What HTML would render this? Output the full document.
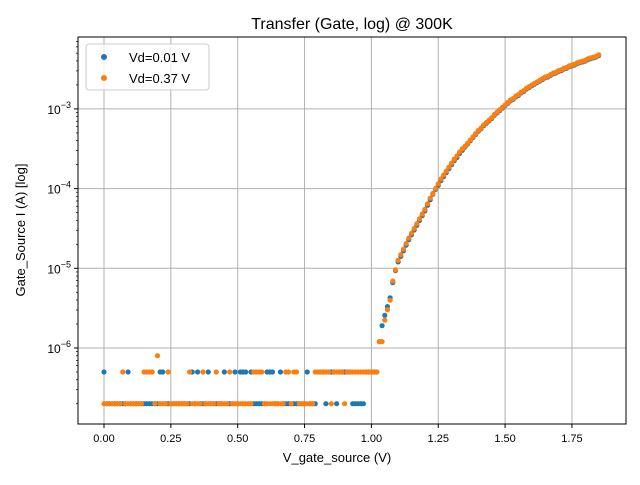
<!DOCTYPE html>
<html><head><meta charset="utf-8"><style>
body{margin:0;background:#fff;}
svg{font-family:"Liberation Sans","DejaVu Sans",sans-serif;}
</style></head><body>
<svg id="chart" width="640" height="480" xmlns="http://www.w3.org/2000/svg">
<rect width="640" height="480" fill="#fff"/>
<text x="352" y="29" font-size="16" text-anchor="middle">Transfer (Gate, log) @ 300K</text>
<text x="337" y="462" font-size="13" text-anchor="middle">V_gate_source (V)</text>
<text x="25" y="230" font-size="13" text-anchor="middle" transform="rotate(-90 25 230)">Gate_Source I (A) [log]</text>
<g id="grid"></g><g id="marks"></g><g id="axes"></g>
<g>
<rect x="86" y="44" width="123" height="46" rx="3" fill="#fff" fill-opacity="0.8" stroke="#ccc"/>
<circle cx="104" cy="57" r="3" fill="#1f77b4"/>
<text x="129" y="62" font-size="13">Vd=0.01 V</text>
<circle cx="104" cy="78" r="3" fill="#ff7f0e"/>
<text x="129" y="83" font-size="13">Vd=0.37 V</text>
</g>
</svg>
<script>
const xTicks=[0,0.25,0.5,0.75,1.0,1.25,1.5,1.75];
const xTickLabels=["0.00","0.25","0.50","0.75","1.00","1.25","1.50","1.75"];
const yDecades=[-6,-5,-4,-3];
const floorV=[0,0.01,0.02,0.03,0.04,0.05,0.06,0.07,0.08,0.09,0.1,0.11,0.12,0.13,0.14,0.15,0.16,0.17,0.18,0.19,0.2,0.21,0.22,0.23,0.24,0.25,0.26,0.27,0.28,0.29,0.3,0.31,0.32,0.33,0.34,0.35,0.36,0.37,0.38,0.39,0.4,0.41,0.42,0.43,0.44,0.45,0.46,0.47,0.48,0.49,0.5,0.51,0.52,0.53,0.54,0.55,0.56,0.57,0.58,0.59,0.6,0.61,0.62,0.63,0.64,0.65,0.66,0.67,0.68,0.69,0.7,0.71,0.72,0.73,0.74,0.75,0.76,0.77,0.78,0.79,0.8,0.81,0.82,0.83,0.84,0.85,0.86,0.87,0.88,0.89,0.9,0.91,0.92,0.93,0.94,0.95,0.96,0.97,0.98,0.99,1.0,1.01,1.02];
const blueHighV=[0.00,0.09,0.21,0.22,0.33,0.35,0.39,0.45,0.49,0.51,0.52,0.53,0.55,0.61,0.62,0.63,0.66,0.76,0.80,0.81,0.82,0.84,0.85,0.86,0.88,0.89,0.90,0.91,0.92,0.98,0.99,1.00,1.01,1.02];
const orangeHighV=[0.07,0.15,0.16,0.17,0.18,0.24,0.32,0.37,0.42,0.47,0.56,0.57,0.58,0.59,0.68,0.69,0.71,0.72,0.79,0.80,0.81,0.82,0.83,0.84,0.86,0.87,0.88,0.89,0.91,0.92,0.93,0.94,0.95,0.96,0.97,0.98,0.99,1.00,1.01,1.02];
const orangeSpikeV=[0.20];
const floorLow=2e-7, floorHigh=5e-7, spikeI=8e-7;
const riseV=[1.03,1.04,1.05,1.06,1.07,1.08,1.09,1.1,1.11,1.12,1.13,1.14,1.15,1.16,1.17,1.18,1.19,1.2,1.21,1.22,1.23,1.24,1.25,1.26,1.27,1.28,1.29,1.3,1.31,1.32,1.33,1.34,1.35,1.36,1.37,1.38,1.39,1.4,1.41,1.42,1.43,1.44,1.45,1.46,1.47,1.48,1.49,1.5,1.51,1.52,1.53,1.54,1.55,1.56,1.57,1.58,1.59,1.6,1.61,1.62,1.63,1.64,1.65,1.66,1.67,1.68,1.69,1.7,1.71,1.72,1.73,1.74,1.75,1.76,1.77,1.78,1.79,1.8,1.81,1.82,1.83,1.84,1.85];
const riseBlueLog=[-5.92,-5.72,-5.59,-5.48,-5.37,-5.18,-5.03,-4.92,-4.85,-4.78,-4.71,-4.64,-4.58,-4.52,-4.46,-4.40,-4.34,-4.28,-4.21,-4.14,-4.07,-4.01,-3.96,-3.90,-3.85,-3.80,-3.75,-3.70,-3.65,-3.61,-3.56,-3.52,-3.48,-3.44,-3.40,-3.36,-3.32,-3.28,-3.25,-3.21,-3.18,-3.15,-3.12,-3.08,-3.05,-3.02,-2.99,-2.96,-2.93,-2.90,-2.88,-2.85,-2.83,-2.80,-2.78,-2.75,-2.73,-2.71,-2.69,-2.67,-2.65,-2.63,-2.61,-2.60,-2.58,-2.56,-2.55,-2.53,-2.52,-2.50,-2.49,-2.47,-2.46,-2.45,-2.43,-2.42,-2.41,-2.40,-2.38,-2.37,-2.36,-2.35,-2.33];
const riseOrangeLog=[-5.92,-5.92,-5.65,-5.52,-5.40,-5.16,-5.02,-4.90,-4.83,-4.76,-4.69,-4.62,-4.56,-4.50,-4.44,-4.38,-4.32,-4.26,-4.19,-4.12,-4.06,-4.00,-3.94,-3.88,-3.83,-3.78,-3.73,-3.68,-3.63,-3.59,-3.54,-3.50,-3.47,-3.43,-3.39,-3.35,-3.31,-3.27,-3.24,-3.20,-3.17,-3.14,-3.11,-3.07,-3.04,-3.01,-2.98,-2.95,-2.92,-2.89,-2.87,-2.84,-2.82,-2.79,-2.77,-2.74,-2.72,-2.70,-2.68,-2.66,-2.64,-2.62,-2.60,-2.59,-2.57,-2.55,-2.54,-2.52,-2.51,-2.49,-2.48,-2.46,-2.45,-2.44,-2.42,-2.41,-2.40,-2.39,-2.37,-2.36,-2.35,-2.34,-2.32];

const L=78,R=626,T=37,B=424;
const xPx=v=>104+v*267.4;
const yPx=lg=>348-(lg+6)*79.7;
const NS="http://www.w3.org/2000/svg";
function mk(tag,attrs,parent){const e=document.createElementNS(NS,tag);for(const k in attrs)e.setAttribute(k,attrs[k]);parent.appendChild(e);return e;}
const grid=document.getElementById('grid'),marks=document.getElementById('marks'),axes=document.getElementById('axes');
xTicks.forEach((t,i)=>{const x=xPx(t);
 const g=mk('line',{x1:x,x2:x,y1:T,y2:B,stroke:'#b0b0b0','stroke-width':1},grid);
 
 
 mk('line',{x1:x,x2:x,y1:B,y2:B+4,stroke:'#000'},axes);
 const tx=mk('text',{x:x,y:B+18,'font-size':11,'text-anchor':'middle'},axes);tx.textContent=xTickLabels[i];
 
 
});
yDecades.forEach(d=>{const y=yPx(d);
 const g=mk('line',{x1:L,x2:R,y1:y,y2:y,stroke:'#b0b0b0','stroke-width':1},grid);
 
 
 mk('line',{x1:L-4,x2:L,y1:y,y2:y,stroke:'#000'},axes);
 const tx=mk('text',{x:L-7,y:y+5,'font-size':12,'text-anchor':'end'},axes);
 tx.innerHTML='10<tspan dy="-6" font-size="9">\u2212'+Math.abs(d)+'</tspan>';
 
 
});
for(let d=-7;d<=-3;d++){for(let m=2;m<=9;m++){const y=yPx(d+Math.log10(m));if(y<T||y>B)continue;mk('line',{x1:L-2,x2:L,y1:y,y2:y,stroke:'#000','stroke-width':0.7},axes);}}
const frame=mk('rect',{x:L,y:T,width:R-L,height:B-T,fill:'none',stroke:'#000','stroke-width':1},axes);


function dot(v,I,color,name){const c=mk('circle',{cx:xPx(v),cy:yPx(Math.log10(I)),r:2.6,fill:color},marks);
 
 }
const has=(arr,v)=>arr.some(a=>Math.abs(a-v)<1e-6);
floorV.forEach(v=>dot(v,has(blueHighV,v)?floorHigh:floorLow,'#1f77b4','point-vd001'));
riseV.forEach((v,i)=>dot(v,Math.pow(10,riseBlueLog[i]),'#1f77b4','point-vd001'));
floorV.forEach(v=>dot(v,has(orangeSpikeV,v)?spikeI:(has(orangeHighV,v)?floorHigh:floorLow),'#ff7f0e','point-vd037'));
riseV.forEach((v,i)=>dot(v,Math.pow(10,riseOrangeLog[i]),'#ff7f0e','point-vd037'));
</script>
</body></html>
